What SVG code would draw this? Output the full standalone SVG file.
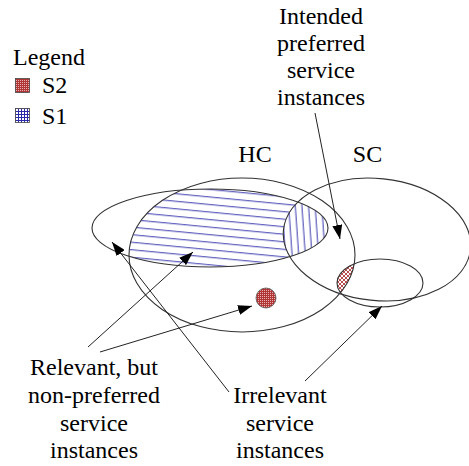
<svg xmlns="http://www.w3.org/2000/svg" width="469" height="466" viewBox="0 0 469 466">
<style>
text{font-family:"Liberation Serif","Times New Roman",serif;font-size:24px;fill:#000}
.set{fill:none;stroke:#333;stroke-width:1.1}
.conn{stroke:#222;stroke-width:1;fill:none}
.hb{stroke:#3c3cb0;stroke-width:1}
</style>
<defs>
<marker id="ah" markerUnits="userSpaceOnUse" markerWidth="14" markerHeight="10" refX="14" refY="5" orient="auto">
<path d="M0,0 L14,5 L0,10 z" fill="#000"/>
</marker>
<pattern id="redcheck" patternUnits="userSpaceOnUse" width="2" height="2">
<rect width="2" height="2" fill="#b03535"/>
<rect width="1" height="1" fill="#e8b0b0"/>
</pattern>
<pattern id="bluegrid" patternUnits="userSpaceOnUse" width="3" height="3">
<rect width="3" height="3" fill="#fff"/>
<path d="M0,0.5H3M0.5,0V3" stroke="#2a2aa8" stroke-width="1"/>
</pattern>
<pattern id="hlines" patternUnits="userSpaceOnUse" width="20" height="7.5" patternTransform="rotate(5.5)">
<path d="M0,3.5H20" class="hb"/>
</pattern>
<pattern id="vlines" patternUnits="userSpaceOnUse" width="6.6" height="20" patternTransform="rotate(-4)">
<path d="M3,0V20" class="hb"/>
</pattern>
<pattern id="xhatch" patternUnits="userSpaceOnUse" width="4" height="4">
<path d="M0,0L4,4M4,0L0,4" stroke="#a82020" stroke-width="0.8"/>
</pattern>
<clipPath id="clipA"><ellipse cx="210" cy="228" rx="118" ry="39"/></clipPath>
<clipPath id="clipHC"><ellipse cx="242" cy="255" rx="113" ry="77"/></clipPath>
<clipPath id="clipSC"><ellipse cx="377" cy="239.5" rx="94" ry="61" transform="rotate(6 377 239.5)"/></clipPath>
<clipPath id="clipSmall"><ellipse cx="380" cy="283" rx="43" ry="24"/></clipPath>
<mask id="notSC" maskUnits="userSpaceOnUse" x="0" y="0" width="469" height="466">
<rect width="469" height="466" fill="#fff"/>
<ellipse cx="377" cy="239.5" rx="94" ry="61" transform="rotate(6 377 239.5)" fill="#000"/>
</mask>
</defs>

<g id="legend">
<text x="13" y="65">Legend</text>
<rect x="15.5" y="78.5" width="14" height="14" fill="url(#redcheck)" stroke="#444" stroke-width="0.8"/>
<text x="42" y="93">S2</text>
<rect x="15.5" y="108.5" width="14" height="14" fill="url(#bluegrid)" stroke="#444" stroke-width="0.8"/>
<text x="42" y="124">S1</text>
</g>

<g id="s1-region">
<g clip-path="url(#clipA)"><g clip-path="url(#clipHC)"><rect x="100" y="180" width="260" height="100" fill="url(#hlines)" mask="url(#notSC)"/></g></g>
<g clip-path="url(#clipA)"><g clip-path="url(#clipSC)"><rect x="270" y="180" width="70" height="100" fill="url(#vlines)"/></g></g>
</g>
<g id="s2-region">
<g clip-path="url(#clipHC)"><g clip-path="url(#clipSmall)"><rect x="320" y="250" width="50" height="60" fill="url(#xhatch)"/></g></g>
</g>

<g id="set-A"><ellipse class="set" cx="210" cy="228" rx="118" ry="39"/></g>
<g id="set-HC"><ellipse class="set" cx="242" cy="255" rx="113" ry="77"/><text x="255" y="162" text-anchor="middle">HC</text></g>
<g id="set-SC"><ellipse class="set" cx="377" cy="239.5" rx="94" ry="61" transform="rotate(6 377 239.5)"/><text x="367.5" y="162" text-anchor="middle">SC</text></g>
<g id="set-small"><ellipse class="set" cx="380" cy="283" rx="43" ry="24"/></g>
<g id="dot"><circle cx="266" cy="298" r="10" fill="url(#redcheck)" stroke="#555" stroke-width="0.8"/></g>

<g id="label-intended">
<text text-anchor="middle" x="321"><tspan x="321" y="23.5">Intended</tspan><tspan x="321" y="50.5">preferred</tspan><tspan x="321" y="77.5">service</tspan><tspan x="321" y="104.5">instances</tspan></text>
</g>
<g id="label-relevant">
<text text-anchor="middle"><tspan x="94" y="375">Relevant, but</tspan><tspan x="94" y="403">non-preferred</tspan><tspan x="94" y="431">service</tspan><tspan x="94" y="458">instances</tspan></text>
</g>
<g id="label-irrelevant">
<text text-anchor="middle"><tspan x="280" y="403">Irrelevant</tspan><tspan x="280" y="431">service</tspan><tspan x="280" y="458">instances</tspan></text>
</g>

<g id="connectors">
<line class="conn" x1="315" y1="113" x2="340" y2="239" marker-end="url(#ah)"/>
<line class="conn" x1="88" y1="347" x2="193" y2="252" marker-end="url(#ah)"/>
<line class="conn" x1="100" y1="352" x2="252" y2="306" marker-end="url(#ah)"/>
<line class="conn" x1="229" y1="392" x2="112" y2="242" marker-end="url(#ah)"/>
<line class="conn" x1="305" y1="381" x2="382" y2="306" marker-end="url(#ah)"/>
</g>
</svg>
